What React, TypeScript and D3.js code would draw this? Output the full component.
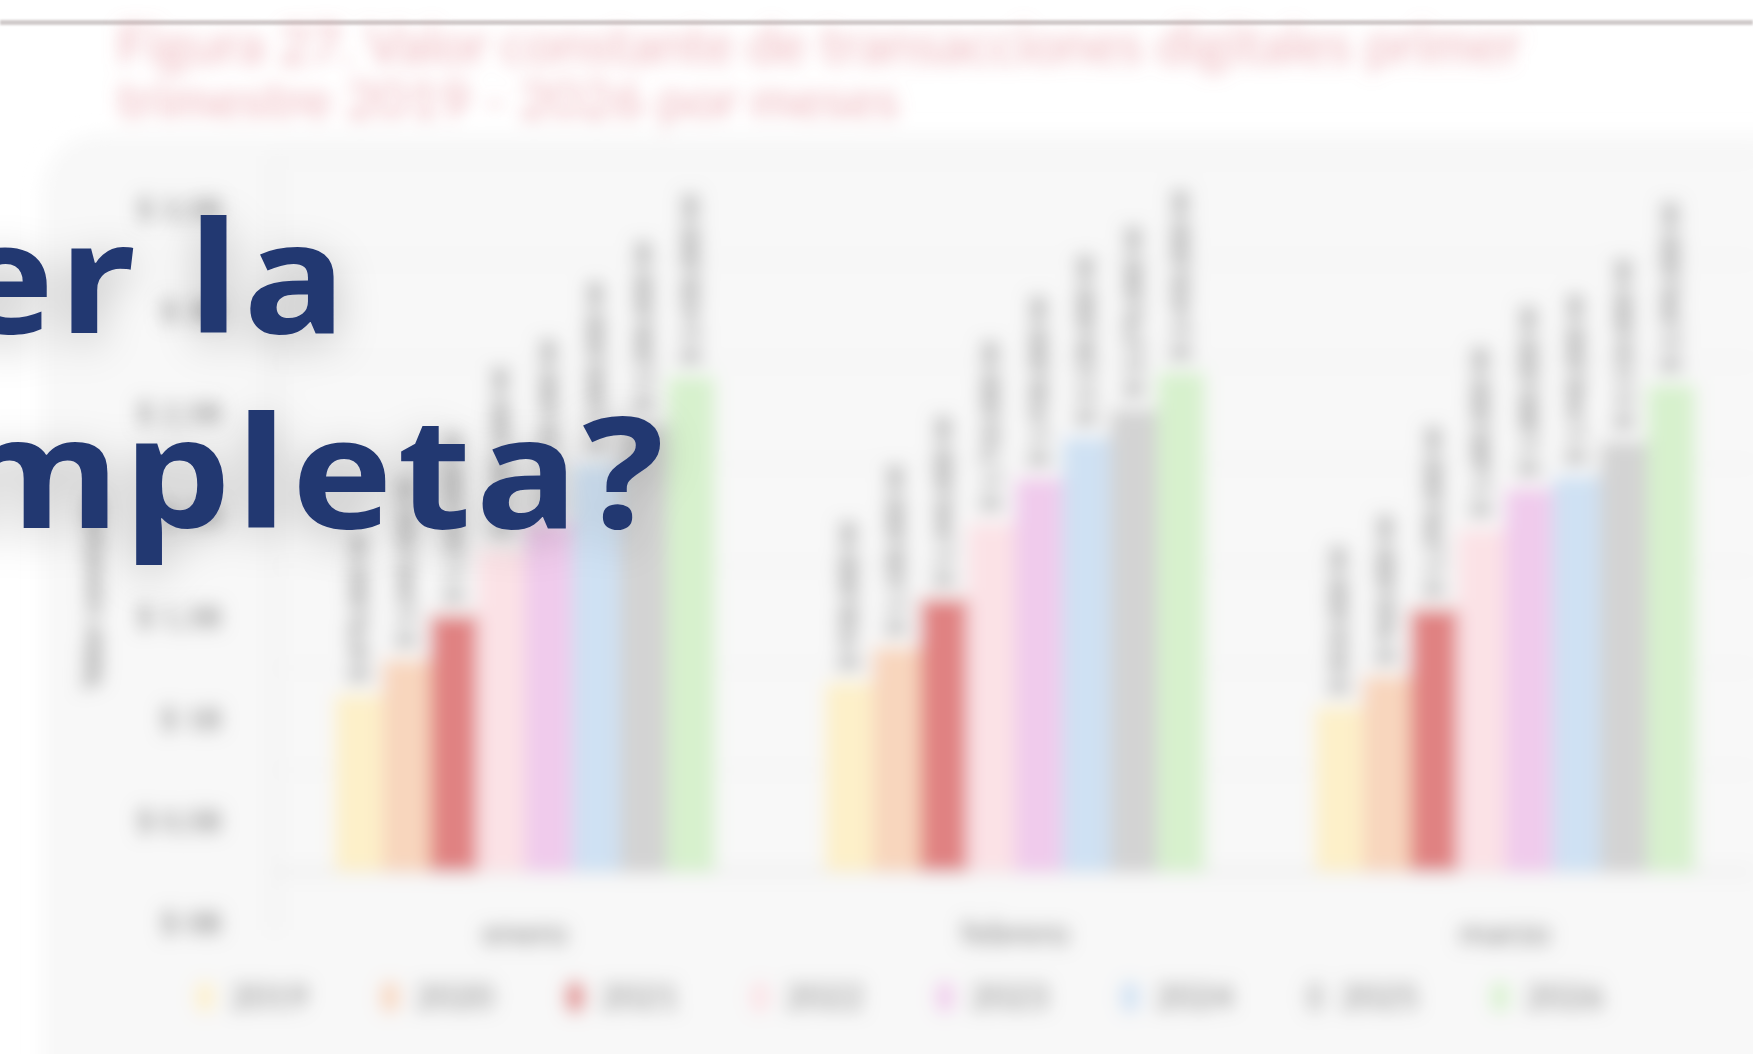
import { useMemo } from "react";
import * as d3 from "d3";

const W = 1753;
const H = 1054;

// Categories and series (billones de pesos constantes)
const months = ["enero", "febrero", "marzo"];
const years = ["2019", "2020", "2021", "2022", "2023", "2024", "2025", "2026"];
const yearColors = ["#fdf0c9", "#f8d6bd", "#e08282", "#fbe2e6", "#f0cbec", "#cfe1f3", "#d3d3d3", "#d7f1cd"];

const v2019 = [0.87, 0.93, 0.81];
const v2020 = [1.04, 1.1, 0.96];
const v2021 = [1.26, 1.34, 1.29];
const v2022 = [1.58, 1.71, 1.68];
const v2023 = [1.72, 1.93, 1.88];
const v2024 = [2.0, 2.13, 1.94];
const v2025 = [2.2, 2.27, 2.11];
const v2026 = [2.43, 2.45, 2.39];
const seriesValues = [v2019, v2020, v2021, v2022, v2023, v2024, v2025, v2026];

const yTicks = [0, 0.5, 1, 1.5, 2, 2.5, 3, 3.5];
const yTickLabels = ["$ 0B", "$ 0,5B", "$ 1B", "$ 1,5B", "$ 2B", "$ 2,5B", "$ 3B", "$ 3,5B"];

const titleLines = [
  "Figura 27. Valor constante de transacciones digitales primer",
  "trimestre 2019 - 2026 por meses",
];
const overlayLines = ["¿Quieres leer la", "nota completa?"];

const esLocale = d3.formatLocale({ decimal: ",", thousands: ".", grouping: [3], currency: ["$", ""] });
const thousands = esLocale.format(",.0f");

export default function App() {
  const x0 = useMemo(
    () => d3.scaleBand<string>().domain(months).range([280, 1750]).paddingInner(0.2245).paddingOuter(0.112),
    [],
  );
  const x1 = useMemo(() => d3.scaleBand<string>().domain(years).range([0, x0.bandwidth()]), [x0]);
  const y = useMemo(() => d3.scaleLinear().domain([0, 3.5]).range([872, 158]), []);
  const legendX = useMemo(() => d3.scaleBand<string>().domain(years).range([190, 1670]), []);
  const color = d3.scaleOrdinal<string, string>().domain(years).range(yearColors);

  // tick labels sit half a step below their gridline in the original
  const labelShift = (y(0) - y(0.5)) / 2;
  // values are in billones; labels show millones
  const fmt = (v: number) => `$ ${thousands(v * 1e6)} M`;

  return (
    <svg
      width={W}
      height={H}
      viewBox={`0 0 ${W} ${H}`}
      style={{ position: "absolute", left: 0, top: 0, display: "block", background: "#fff" }}
    >
      <defs>
        <filter id="soft" filterUnits="userSpaceOnUse" x={-50} y={-50} width={W + 100} height={H + 100}>
          <feGaussianBlur stdDeviation={9} />
        </filter>
        <filter id="hairline" filterUnits="userSpaceOnUse" x={-10} y={0} width={W + 20} height={60}>
          <feGaussianBlur stdDeviation={0.8} />
        </filter>
        <filter id="halo" filterUnits="userSpaceOnUse" x={-200} y={0} width={1200} height={800}>
          <feDropShadow dx={0} dy={10} stdDeviation={22} floodColor="#000" floodOpacity={0.22} />
        </filter>
      </defs>

      <rect x={0} y={20} width={W} height={5} fill="#d0cbcb" filter="url(#hairline)" />

      <g filter="url(#soft)">
        {titleLines.map((t, i) => (
          <text
            key={t}
            x={117}
            y={64 + i * 56}
            fontFamily="Lato, sans-serif"
            fontSize={54}
            fill="#e38590"
            fillOpacity={0.6}
          >
            {t}
          </text>
        ))}

        <rect x={42} y={134} width={W + 40} height={H} rx={60} fill="#f8f8f8" />

        {/* gridlines + axes */}
        {yTicks.map((t) => (
          <line key={t} x1={275} x2={W} y1={y(t)} y2={y(t)} stroke="#efefef" strokeWidth={2} />
        ))}
        <line x1={275} x2={W} y1={y(0)} y2={y(0)} stroke="#dedede" strokeWidth={3} />
        <line x1={275} x2={275} y1={y(3.5)} y2={930} stroke="#e6e6e6" strokeWidth={3} />

        {yTicks.map((t, i) => (
          <text
            key={t}
            x={222}
            y={y(t) + labelShift}
            dy="0.35em"
            textAnchor="end"
            fontFamily="Lato, sans-serif"
            fontSize={30}
            fill="#333"
          >
            {yTickLabels[i]}
          </text>
        ))}
        <text
          transform={`translate(92,592) rotate(-90)`}
          textAnchor="middle"
          dy="0.35em"
          fontFamily="Lato, sans-serif"
          fontWeight={700}
          fontSize={28}
          fill="#555"
        >
          Valor constante
        </text>

        {/* bars */}
        {months.map((m, mi) => (
          <g key={m} transform={`translate(${x0(m)},0)`}>
            {years.map((yr, si) => {
              const v = seriesValues[si][mi];
              const bx = x1(yr) ?? 0;
              return (
                <g key={yr}>
                  <rect x={bx} y={y(v)} width={x1.bandwidth()} height={y(0) - y(v)} fill={color(yr)} />
                  <text
                    transform={`translate(${bx + x1.bandwidth() / 2},${y(v) - 12}) rotate(-90)`}
                    dy="0.35em"
                    fontFamily="Lato, sans-serif"
                    fontWeight={700}
                    fontSize={26}
                    fill="#666"
                  >
                    {fmt(v)}
                  </text>
                </g>
              );
            })}
            <text
              x={x0.bandwidth() / 2}
              y={933}
              dy="0.35em"
              textAnchor="middle"
              fontFamily="Lato, sans-serif"
              fontSize={34}
              fill="#555"
            >
              {m}
            </text>
          </g>
        ))}

        {/* legend */}
        {years.map((yr) => (
          <g key={yr} transform={`translate(${legendX(yr)},997)`}>
            <rect x={6} y={-16} width={18} height={32} rx={9} fill={color(yr)} />
            <text x={40} dy="0.35em" fontFamily="Lato, sans-serif" fontSize={34} fill="#555">
              {yr}
            </text>
          </g>
        ))}
      </g>

      {/* paywall overlay */}
      <g filter="url(#halo)">
        {overlayLines.map((t, i) => (
          <g key={t} transform={`translate(${i === 0 ? 350 : 668},${i === 0 ? 333 : 528}) scale(1.1,1)`}>
            <text
              textAnchor="end"
              fontFamily="'Noto Sans', sans-serif"
              fontWeight={700}
              fontSize={155}
              letterSpacing={4}
              fill="#233771"
            >
              {t}
            </text>
          </g>
        ))}
      </g>
    </svg>
  );
}
